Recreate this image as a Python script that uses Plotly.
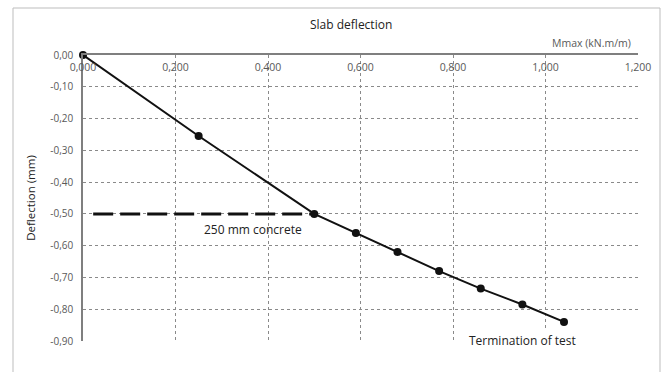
import plotly.graph_objects as go

# Data
moment = [0.0, 0.25, 0.50, 0.59, 0.68, 0.77, 0.86, 0.95, 1.04]
deflection = [0.0, -0.255, -0.50, -0.56, -0.62, -0.68, -0.735, -0.785, -0.84]
limit_x = [0.022, 0.50]
limit_y = [-0.50, -0.50]
x_ticks = [0.0, 0.2, 0.4, 0.6, 0.8, 1.0, 1.2]
x_tick_labels = ["0,000", "0,200", "0,400", "0,600", "0,800", "1,000", "1,200"]
y_ticks = [0.0, -0.1, -0.2, -0.3, -0.4, -0.5, -0.6, -0.7, -0.8, -0.9]
y_tick_labels = ["0,00", "-0,10", "-0,20", "-0,30", "-0,40", "-0,50",
                 "-0,60", "-0,70", "-0,80", "-0,90"]

FONT = "Open Sans"
W, H = 670, 372
L, R, T, B = 83, 638, 55, 341


def px(x):
    return (x - L) / (R - L)


def py(y):
    return (B - y) / (B - T)


fig = go.Figure()
fig.add_trace(go.Scatter(x=limit_x, y=limit_y, mode="lines",
                         line=dict(color="#111111", width=3, dash="20px,7px"),
                         hoverinfo="skip", showlegend=False, cliponaxis=False))
fig.add_trace(go.Scatter(x=moment, y=deflection, mode="lines+markers",
                         line=dict(color="#111111", width=2),
                         marker=dict(color="#111111", size=8),
                         showlegend=False, cliponaxis=False))

fig.update_layout(
    width=W, height=H,
    margin=dict(l=L, r=W - R, t=T, b=H - B, autoexpand=False),
    paper_bgcolor="white", plot_bgcolor="white",
    font=dict(family=FONT, size=10, color="#595959"),
    showlegend=False,
    xaxis=dict(range=[0, 1.2], tickvals=x_ticks, ticktext=x_tick_labels, side="top",
               ticklabelstandoff=-22, showgrid=True, gridcolor="#8a8a8a",
               griddash="dot", gridwidth=1, showline=True, linecolor="#7f7f7f",
               linewidth=1.5, zeroline=False, ticks="", fixedrange=True,
               tickfont=dict(size=10.5)),
    yaxis=dict(range=[-0.9, 0], tickvals=y_ticks, ticktext=y_tick_labels,
               showgrid=True, gridcolor="#8a8a8a", griddash="dot", gridwidth=1,
               showline=True, linecolor="#7f7f7f", linewidth=1.5, zeroline=False,
               ticks="", ticklabelstandoff=6, fixedrange=True,
               title=dict(text="Deflection (mm)", standoff=12,
                          font=dict(family=FONT, size=11.5, color="#222222"))),
    shapes=[dict(type="rect", xref="paper", yref="paper",
                 x0=px(13), x1=px(660), y0=py(375), y1=py(8),
                 line=dict(color="#bdbdbd", width=1), layer="below")],
    annotations=[
        dict(text="Slab deflection", xref="paper", yref="paper", x=px(351), y=py(24),
             showarrow=False, xanchor="center", yanchor="middle",
             font=dict(family=FONT, size=12, color="#222222")),
        dict(text="Mmax (kN.m/m)", xref="paper", yref="paper", x=px(633), y=py(43),
             showarrow=False, xanchor="right", yanchor="middle",
             font=dict(family=FONT, size=10.5, color="#595959")),
        dict(text="250 mm concrete", x=0.367, y=-0.55, showarrow=False,
             xanchor="center", yanchor="middle",
             font=dict(family=FONT, size=12, color="#222222")),
        dict(text="Termination of test", x=0.951, y=-0.897, showarrow=False,
             xanchor="center", yanchor="middle", bgcolor="white",
             font=dict(family=FONT, size=12, color="#222222")),
    ],
)

fig.write_html("out.html", config={"displayModeBar": False},
               post_script="document.body.style.margin='0';document.body.style.padding='0';")
